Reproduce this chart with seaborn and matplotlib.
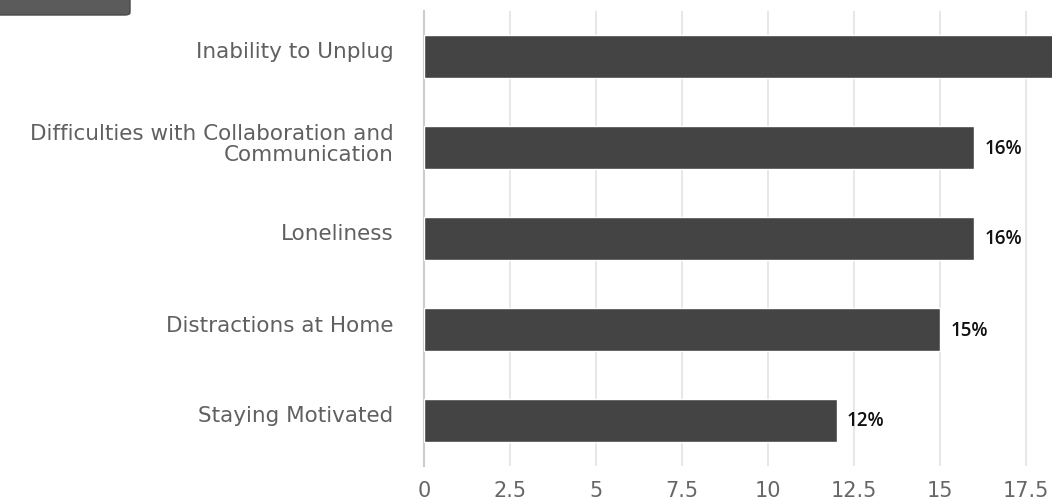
import matplotlib
matplotlib.use("Agg")
import matplotlib.pyplot as plt
import matplotlib.transforms as mtransforms
from matplotlib.patches import FancyBboxPatch
import seaborn as sns
import pandas as pd

categories = [
    "Inability to Unplug",
    "Difficulties with Collaboration and\nCommunication",
    "Loneliness",
    "Distractions at Home",
    "Staying Motivated",
]
values = [19, 16, 16, 15, 12]
x_ticks = [0, 2.5, 5, 7.5, 10, 12.5, 15, 17.5]
x_tick_labels = ["0", "2.5", "5", "7.5", "10", "12.5", "15", "17.5"]

df = pd.DataFrame({"category": categories, "value": values})

sns.set_theme(style="white")
plt.rcParams["font.family"] = ["DejaVu Sans"]

fig = plt.figure(figsize=(10.52, 5.02), dpi=100)
ax = fig.add_axes([424 / 1052, 1 - 467 / 502, 1 - 424 / 1052, 455 / 502])

sns.barplot(data=df, x="value", y="category", orient="h", color="#444444",
            width=0.48, saturation=1, ax=ax, zorder=3)

ax.set_xlim(0, 18.26)
ax.set_ylim(4.5, -0.5)
ax.set_xticks(x_ticks)
ax.set_xticklabels(x_tick_labels)
ax.set_xlabel("")
ax.set_ylabel("")

ax.grid(axis="x", color="#e3e3e3", linewidth=1.2, zorder=0)
for s in ["top", "right", "bottom"]:
    ax.spines[s].set_visible(False)
ax.spines["left"].set_color("#cccccc")
ax.spines["left"].set_linewidth(1.5)

ax.tick_params(axis="x", length=0, pad=10, labelsize=15, labelcolor="#666666")
ax.tick_params(axis="y", length=0, pad=22, labelsize=15.5, labelcolor="#606060")

# category labels sit slightly above the bar centres
lift = mtransforms.ScaledTranslation(0, 7 / 100, fig.dpi_scale_trans)
for lbl in ax.get_yticklabels():
    lbl.set_linespacing(1.1)
    lbl.set_transform(lbl.get_transform() + lift)

for i, v in enumerate(values):
    ax.text(v + 0.3, i, f"{v}%", va="center", ha="left", fontsize=13.5,
            fontweight="semibold", family="Open Sans", color="#111111",
            clip_on=True, zorder=4)

# toolbar tab in the top-left corner
tab = FancyBboxPatch((-8 / 1052, 1 - 16 / 502), 138 / 1052, 30 / 502,
                     boxstyle="round,pad=0,rounding_size=0.005",
                     transform=fig.transFigure, facecolor="#5b5b5b",
                     edgecolor="#4a4a4a", linewidth=1)
fig.patches.append(tab)

fig.savefig("out.png", dpi=100)
